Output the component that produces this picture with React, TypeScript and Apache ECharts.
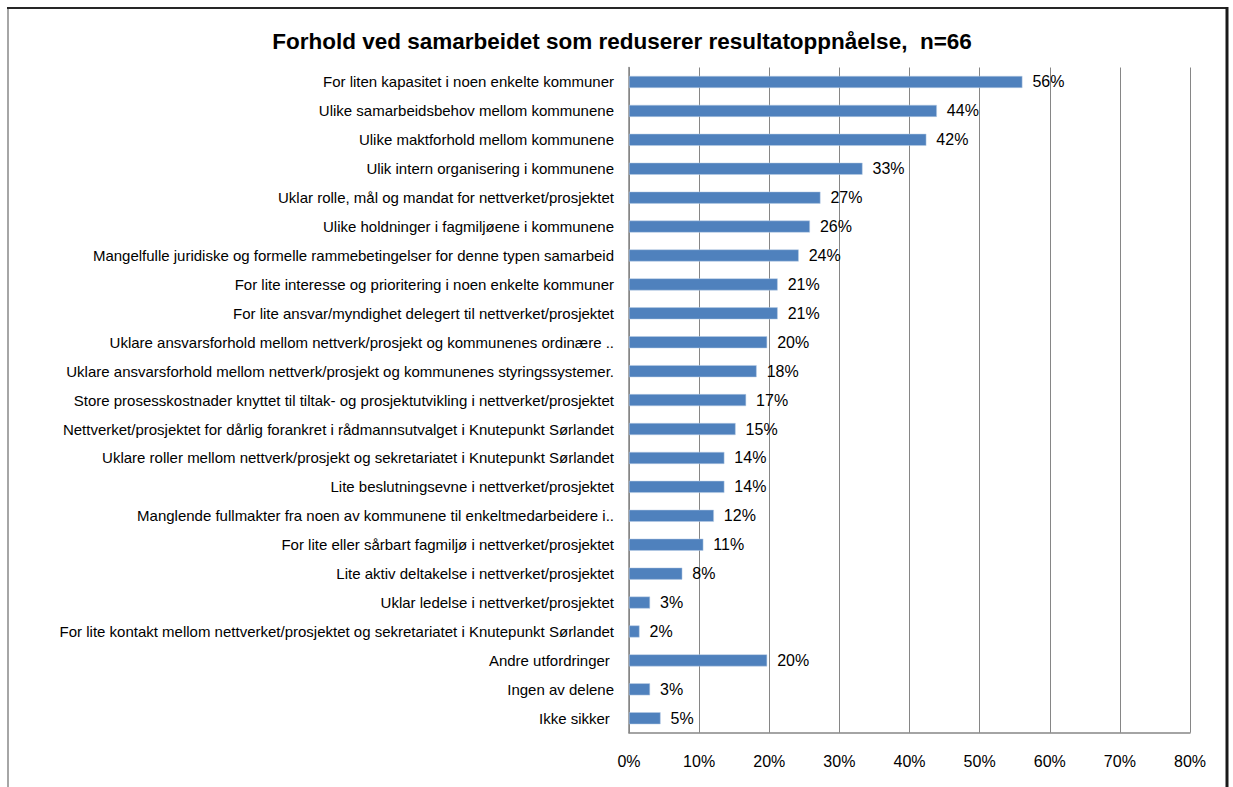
import React, { useEffect, useRef } from "react";
import * as echarts from "echarts";

const titleText = "Forhold ved samarbeidet som reduserer resultatoppnåelse,  n=66";

const categories: string[] = [
  "For liten kapasitet i noen enkelte kommuner",
  "Ulike samarbeidsbehov mellom kommunene",
  "Ulike maktforhold mellom kommunene",
  "Ulik intern organisering i kommunene",
  "Uklar rolle, mål og mandat for nettverket/prosjektet",
  "Ulike holdninger i fagmiljøene i kommunene",
  "Mangelfulle juridiske og formelle rammebetingelser for denne typen samarbeid",
  "For lite interesse og prioritering i noen enkelte kommuner",
  "For lite ansvar/myndighet delegert til nettverket/prosjektet",
  "Uklare ansvarsforhold mellom nettverk/prosjekt og kommunenes ordinære ..",
  "Uklare ansvarsforhold mellom nettverk/prosjekt og kommunenes styringssystemer.",
  "Store prosesskostnader knyttet til tiltak- og prosjektutvikling i nettverket/prosjektet",
  "Nettverket/prosjektet for dårlig forankret i rådmannsutvalget i Knutepunkt Sørlandet",
  "Uklare roller mellom nettverk/prosjekt og sekretariatet i Knutepunkt Sørlandet",
  "Lite beslutningsevne i nettverket/prosjektet",
  "Manglende fullmakter fra noen av kommunene til enkeltmedarbeidere i..",
  "For lite eller sårbart fagmiljø i nettverket/prosjektet",
  "Lite aktiv deltakelse i nettverket/prosjektet",
  "Uklar ledelse i nettverket/prosjektet",
  "For lite kontakt mellom nettverket/prosjektet og sekretariatet i Knutepunkt Sørlandet",
  "Andre utfordringer ",
  "Ingen av delene",
  "Ikke sikker ",
];

const values: number[] = [
  56.1, 43.9, 42.4, 33.3, 27.3, 25.8, 24.2, 21.2, 21.2, 19.7, 18.2, 16.7, 15.2,
  13.6, 13.6, 12.1, 10.6, 7.6, 3.0, 1.5, 19.7, 3.0, 4.5,
];

const xTicks = { min: 0, max: 80, interval: 10 };

export default function App() {
  const ref = useRef<HTMLDivElement>(null);
  useEffect(() => {
    if (!ref.current) return;
    const chart = echarts.init(ref.current, undefined, { renderer: "svg" });
    const font = "'Liberation Sans', Arial, sans-serif";
    chart.setOption({
      animation: false,
      backgroundColor: "#ffffff",
      title: {
        text: titleText,
        left: 617,
        top: 25,
        textAlign: "center",
        textStyle: {
          fontFamily: font,
          fontWeight: "bold",
          fontSize: 22.5,
          color: "#000000",
        },
      },
      graphic: [
        {
          type: "line",
          shape: { x1: 8, y1: 8, x2: 8, y2: 800 },
          style: { stroke: "#a6a6a6", lineWidth: 2 },
          silent: true,
        },
        {
          type: "line",
          shape: { x1: 7, y1: 8, x2: 1227, y2: 8 },
          style: { stroke: "#262626", lineWidth: 2 },
          silent: true,
        },
        {
          type: "line",
          shape: { x1: 1227, y1: 7, x2: 1227, y2: 800 },
          style: { stroke: "#1a1a1a", lineWidth: 3 },
          silent: true,
        },
      ],
      grid: {
        left: 629,
        right: 43,
        top: 67.5,
        bottom: 54.3,
        containLabel: false,
      },
      xAxis: {
        type: "value",
        min: xTicks.min,
        max: xTicks.max,
        interval: xTicks.interval,
        axisLine: { show: true, lineStyle: { color: "#868686", width: 1.5 } },
        axisTick: { show: false },
        axisLabel: {
          formatter: (v: number) => `${v}%`,
          fontFamily: font,
          fontSize: 16,
          color: "#000000",
          margin: 21,
        },
        splitLine: { show: true, lineStyle: { color: "#868686", width: 1 } },
      },
      yAxis: {
        type: "category",
        data: categories,
        inverse: true,
        axisLine: { show: true, lineStyle: { color: "#868686", width: 1.5 } },
        axisTick: { show: false },
        axisLabel: {
          fontFamily: font,
          fontSize: 15,
          color: "#000000",
          margin: 15,
        },
      },
      series: [
        {
          type: "bar",
          data: values,
          barWidth: 12,
          itemStyle: {
            color: "#4f81bd",
            borderColor: "#b9cde5",
            borderWidth: 0.5,
          },
          label: {
            show: true,
            position: "right",
            distance: 10,
            formatter: (p: any) => `${Math.round(p.value)}%`,
            fontFamily: font,
            fontSize: 16,
            color: "#000000",
          },
        },
      ],
    });
    return () => chart.dispose();
  }, []);
  return (
    <div
      ref={ref}
      style={{ position: "fixed", left: 0, top: 0, width: 1233, height: 787 }}
    />
  );
}
